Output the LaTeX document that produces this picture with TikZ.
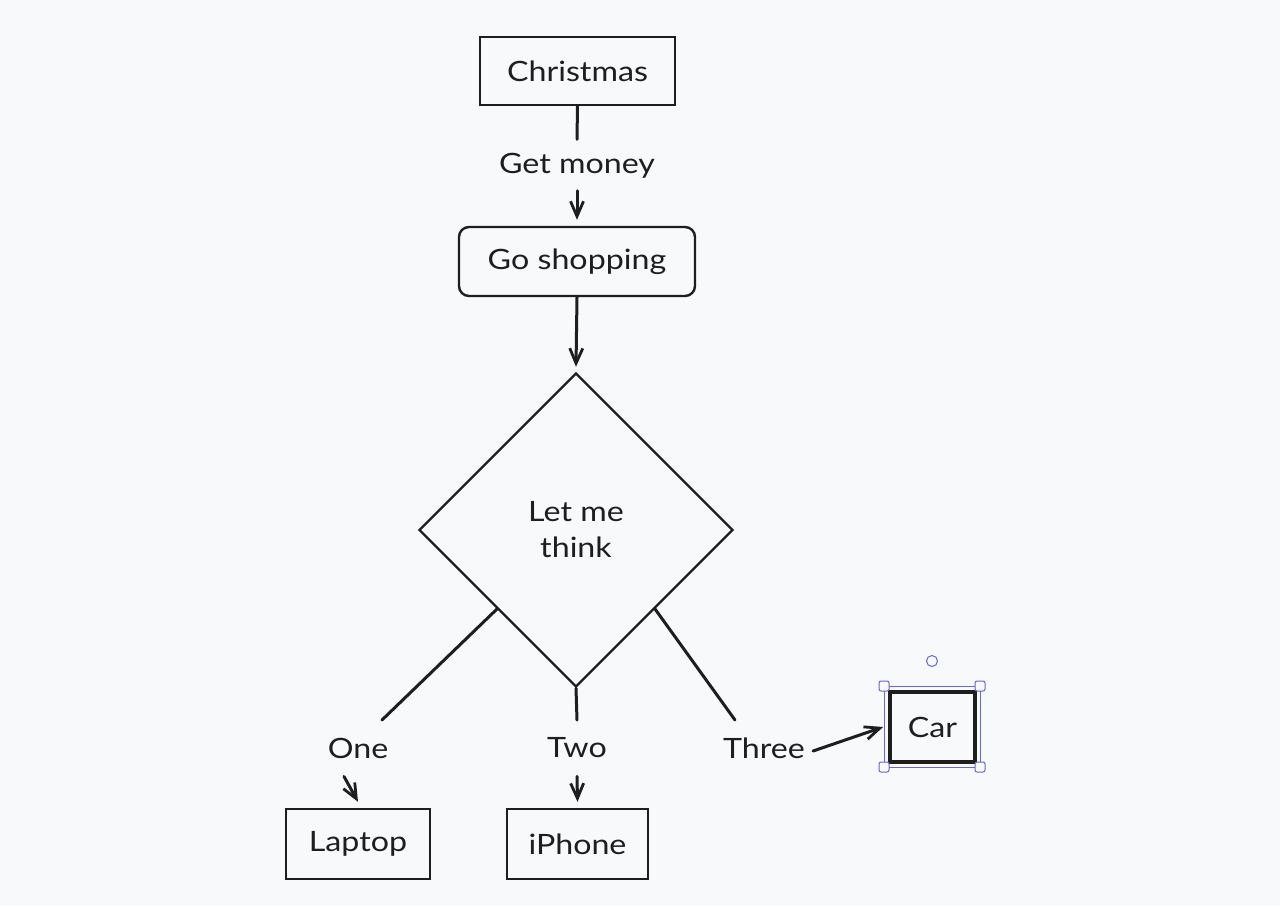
\documentclass[tikz,border=0pt]{standalone}
\usepackage{fontspec}
\setmainfont{Lato}[FakeStretch=1.15]
\usetikzlibrary{shapes.geometric,arrows.meta}
\definecolor{paper}{RGB}{248,249,251}
\definecolor{ink}{RGB}{30,30,30}
\definecolor{selblue}{RGB}{105,101,219}
\tikzset{
  ink/.style={draw=ink, line width=2.4pt},
  boxnode/.style={ink, rectangle, inner sep=0pt, font=\fontsize{28}{32}\selectfont, text=ink},
  lbl/.style={inner sep=0pt, font=\fontsize{28}{32}\selectfont, text=ink},
  conn/.style={draw=ink, line width=3pt, line cap=round},
  arr/.style={conn, -{Straight Barb[length=15pt,width=13pt,line width=2.8pt]}},
  handle/.style={draw=selblue, fill=paper, line width=1pt, rounded corners=2pt, minimum size=10pt, inner sep=0pt},
}
\begin{document}
\begin{tikzpicture}[x=1pt,y=-1pt]
  \fill[paper] (0,0) rectangle (1280,906);
  \useasboundingbox (0,0) rectangle (1280,906);

  % main flow
  \node[boxnode, minimum width=195pt, minimum height=68pt] (chr) at (577.5,71) {Christmas};
  \node[boxnode, rounded corners=10pt, minimum width=236pt, minimum height=69pt] (gs) at (577,261.5) {Go shopping};
  \node[ink, diamond, aspect=1, minimum width=314pt, minimum height=314pt, inner sep=0pt,
        align=center, font=\fontsize{28}{36}\selectfont, text=ink] (dec) at (576,530) {Let me\\think};

  % outcomes
  \node[boxnode, minimum width=144pt, minimum height=70pt] (lap) at (358,844) {Laptop};
  \node[boxnode, minimum width=141pt, minimum height=70pt] (iph) at (577.5,844) {iPhone};
  \node[boxnode, line width=3.8pt, minimum width=85pt, minimum height=70pt] (car) at (932.5,727) {Car};

  % edge labels
  \node[lbl] (gm) at (577,166) {Get money};
  \node[lbl] (one) at (358,748) {One};
  \node[lbl] (two) at (577,748) {Two};
  \node[lbl] (three) at (764,748) {Three};

  % connectors (yshift is in page units: positive moves up)
  \draw[conn] (chr.south) -- ([yshift=14pt]gm.north);
  \draw[arr] ([yshift=-12pt]gm.south) -- ([yshift=6pt]gs.north);
  \draw[arr] (gs.south) -- ([yshift=5pt]dec.north);

  \coordinate (oneIn) at (382,720);
  \coordinate (threeIn) at (735,720);
  \coordinate (twoIn) at (577,720);
  \draw[conn] (dec.south west) -- (oneIn);
  \draw[conn] (dec.south) -- (twoIn);
  \draw[conn] (dec.south east) -- (threeIn);
  \draw[arr] ([xshift=-14pt,yshift=-18pt]one.south) -- ([yshift=6pt]lap.north);
  \draw[arr] ([yshift=-18pt]two.south) -- ([yshift=6pt]iph.north);
  \draw[arr] ([xshift=8pt,yshift=-3pt]three.east) -- ([xshift=-5pt]car.west);

  % selection frame around Car
  \draw[selblue, line width=1pt] (884,686) rectangle (980,767);
  \node[handle] (h1) at (884,686) {};
  \node[handle] (h2) at (980,686) {};
  \node[handle] (h3) at (884,767) {};
  \node[handle] (h4) at (980,767) {};
  \node[handle, circle, minimum size=11pt] (rot) at (932,661) {};
\end{tikzpicture}
\end{document}
